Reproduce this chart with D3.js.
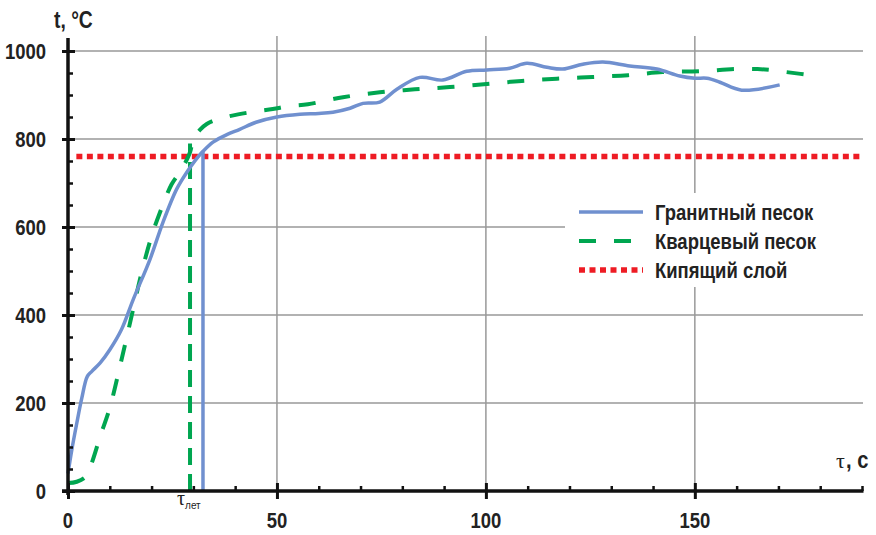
<!DOCTYPE html>
<html>
<head>
<meta charset="utf-8">
<script src="https://cdn.jsdelivr.net/npm/d3@7"></script>
<style>
  body { margin: 0; background: #fff; }
  svg text { fill: #222; }
  .num { font-family: "Liberation Sans", Arial, sans-serif; font-weight: bold; }
</style>
</head>
<body>
<svg id="chart" width="876" height="535"></svg>
<script>
// granite sand heating curve (tau, s / t, °C)
const graniteTau = [0, 0.9, 2.1, 3.3, 4.6, 5.7, 7.7, 10, 12.8, 15.6, 19.6, 22.7, 26, 28.4, 30.5, 32.3, 34.7, 38, 41.1, 45, 50, 55.5, 60, 63.4, 67.5, 70.6, 74.6, 78.7, 84.2, 89.7, 95.4, 100.2, 105.7, 109.8, 114.6, 118.4, 123.2, 128, 134.4, 140.9, 146.4, 150, 152.9, 156, 161.2, 170.3];
const graniteT = [40, 93, 154, 211, 260, 272, 291, 321, 367, 435, 526, 610, 686, 724, 752, 772, 793, 810, 822, 838, 850, 856, 858, 861, 870, 881, 884, 913, 940, 934, 954, 957, 961, 972, 963, 959, 970, 975, 966, 959, 943, 938, 938, 929, 911, 923];

// quartz sand heating curve
const quartzTau = [0, 2.1, 4.3, 5.7, 7.7, 10, 12.6, 15.2, 17.6, 20, 22, 24.8, 27.2, 29.2, 30, 31.5, 33.2, 35.9, 40.7, 45.2, 49, 53, 57.4, 65.8, 74.6, 83, 91.4, 100.2, 108.6, 117, 125.5, 134, 142.3, 151.2, 159.6, 165, 168, 172, 179.4];
const quartzT = [18, 21, 33, 64, 124, 189, 290, 397, 496, 579, 633, 697, 731, 770, 800, 820, 834, 845, 856, 863, 868, 875, 879, 895, 906, 913, 918, 925, 932, 937, 941, 945, 952, 954, 959, 959, 957, 952, 943];

// fluidized bed temperature
const bedTau = [2, 190];
const bedT = 760;

// take-off times
const tauLetQuartz = 29.2, tauLetQuartzT = 790;
const tauLetGranite = 32.3, tauLetGraniteT = 772;

const yTicks = [0, 200, 400, 600, 800, 1000];
const yMinor = [50, 100, 150, 250, 300, 350, 450, 500, 550, 650, 700, 750, 850, 900, 950];
const xTicks = [0, 50, 100, 150];
const xMinor = [10, 20, 30, 40, 60, 70, 80, 90, 110, 120, 130, 140, 160, 170, 180, 190];

const legendLabels = ["Гранитный песок", "Кварцевый песок", "Кипящий слой"];

const BLUE = "#7090cf", GREEN = "#00a650", RED = "#ee1c24", GRID = "#999";
const SQ = 0.84; // horizontal squeeze to imitate a narrow bold face

const svg = d3.select("#chart");
const x = d3.scaleLinear().domain([0, 190]).range([68, 862]);
const y = d3.scaleLinear().domain([0, 1000]).range([491, 51]);

// narrow bold label helper
function label(px, py, str, anchor, size) {
  return svg.append("text")
    .attr("class", "num")
    .attr("transform", `translate(${px},${py}) scale(${SQ},1)`)
    .attr("text-anchor", anchor)
    .style("font-size", size + "px")
    .text(str);
}

// grid
svg.append("g").selectAll("line").data(yTicks.filter(d => d > 0)).join("line")
  .attr("x1", x(0)).attr("x2", 863).attr("y1", d => y(d)).attr("y2", d => y(d))
  .attr("stroke", GRID).attr("stroke-width", 1.5);
svg.append("g").selectAll("line").data(xTicks.filter(d => d > 0)).join("line")
  .attr("x1", d => x(d)).attr("x2", d => x(d)).attr("y1", 36).attr("y2", y(0))
  .attr("stroke", GRID).attr("stroke-width", 1.5);

// legend background hides grid under it
svg.append("rect").attr("x", 565).attr("y", 193).attr("width", 305).attr("height", 94).attr("fill", "#fff");

const line = d3.line().x(d => x(d[0])).y(d => y(d[1])).curve(d3.curveCatmullRom.alpha(0.5));

// red fluidized-bed line
svg.append("line")
  .attr("x1", x(bedTau[0])).attr("x2", x(bedTau[1])).attr("y1", y(bedT)).attr("y2", y(bedT))
  .attr("stroke", RED).attr("stroke-width", 5.5).attr("stroke-dasharray", "6 4.5");

// vertical take-off lines
svg.append("line")
  .attr("x1", x(tauLetQuartz)).attr("x2", x(tauLetQuartz)).attr("y1", y(0)).attr("y2", y(tauLetQuartzT))
  .attr("stroke", GREEN).attr("stroke-width", 4).attr("stroke-dasharray", "17 9");
svg.append("line")
  .attr("x1", x(tauLetGranite)).attr("x2", x(tauLetGranite)).attr("y1", y(0)).attr("y2", y(tauLetGraniteT))
  .attr("stroke", BLUE).attr("stroke-width", 3.5);

// curves
svg.append("path").datum(d3.zip(quartzTau, quartzT)).attr("d", line)
  .attr("fill", "none").attr("stroke", GREEN).attr("stroke-width", 4).attr("stroke-dasharray", "17 18");
svg.append("path").datum(d3.zip(graniteTau, graniteT)).attr("d", line)
  .attr("fill", "none").attr("stroke", BLUE).attr("stroke-width", 3.5);

// axes: ticks from d3 axes, labels placed by hand below
const yAxis = svg.append("g").attr("transform", `translate(${x(0)},0)`)
  .call(d3.axisLeft(y).tickValues(yTicks).tickSize(6).tickFormat(""));
yAxis.select(".domain").remove();
yAxis.selectAll(".tick line").attr("x2", 7).attr("x1", -6).attr("stroke", "#111").attr("stroke-width", 3);
svg.append("g").attr("transform", `translate(${x(0)},0)`)
  .call(d3.axisRight(y).tickValues(yMinor).tickSize(5).tickFormat(""))
  .call(g => g.select(".domain").remove())
  .selectAll(".tick line").attr("stroke", "#111").attr("stroke-width", 2.5);

const xAxis = svg.append("g").attr("transform", `translate(0,${y(0)})`)
  .call(d3.axisBottom(x).tickValues(xTicks).tickSize(8).tickFormat(""));
xAxis.select(".domain").remove();
xAxis.selectAll(".tick line").attr("y1", -8).attr("y2", 8).attr("stroke", "#111").attr("stroke-width", 3);
svg.append("g").attr("transform", `translate(0,${y(0)})`)
  .call(d3.axisTop(x).tickValues(xMinor).tickSize(5).tickFormat(""))
  .call(g => g.select(".domain").remove())
  .selectAll(".tick line").attr("stroke", "#111").attr("stroke-width", 2.5);

svg.append("line").attr("x1", x(0)).attr("x2", x(0)).attr("y1", 38).attr("y2", y(0) + 4)
  .attr("stroke", "#111").attr("stroke-width", 3.5);
svg.append("line").attr("x1", x(0) - 6).attr("x2", x(190) + 1.5).attr("y1", y(0)).attr("y2", y(0))
  .attr("stroke", "#111").attr("stroke-width", 3.5);

yTicks.forEach(v => label(46, y(v) + 8, String(v), "end", 22));
xTicks.forEach(v => label(x(v), 528, String(v), "middle", 22));

// axis titles
label(54, 28, "t, °C", "start", 23);
const xt = svg.append("text").attr("x", 836).attr("y", 468);
xt.append("tspan").style("font-family", "'Liberation Serif', serif").style("font-size", "22px").text("τ");
label(846, 468, ", с", "start", 24);

const tl = svg.append("text").attr("x", 177).attr("y", 505);
tl.append("tspan").style("font-family", "'Liberation Serif', serif").style("font-size", "20px").text("τ");
tl.append("tspan").attr("dy", 4).style("font-family", "'Liberation Sans', sans-serif").style("font-size", "10px").text("лет");

// legend
const rows = [
  { y: 212, color: BLUE, width: 3.5, dash: null },
  { y: 241, color: GREEN, width: 4, dash: "17 18" },
  { y: 270, color: RED, width: 5.5, dash: "6 4.5" }
];
rows.forEach((r, i) => {
  svg.append("line").attr("x1", 579).attr("x2", 643).attr("y1", r.y).attr("y2", r.y)
    .attr("stroke", r.color).attr("stroke-width", r.width).attr("stroke-dasharray", r.dash);
  label(655, r.y + 8, legendLabels[i], "start", 22);
});
</script>
</body>
</html>
